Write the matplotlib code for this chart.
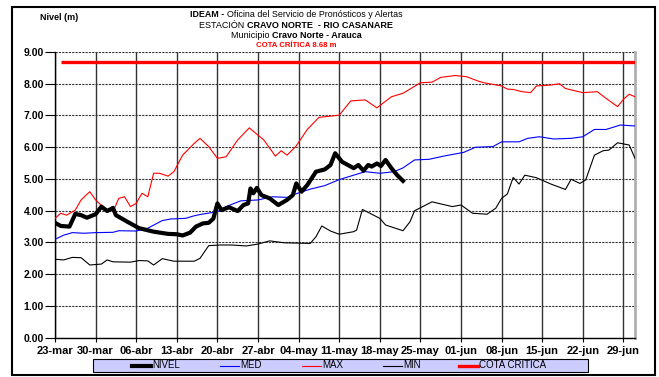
import matplotlib.pyplot as plt
import numpy as np
from matplotlib.patches import Rectangle
from matplotlib.lines import Line2D

plt.rcParams['font.family'] = ['Liberation Sans', 'DejaVu Sans']

# Días contados desde el 23-mar
fechas = ['23-mar', '30-mar', '06-abr', '13-abr', '20-abr', '27-abr', '04-may',
          '11-may', '18-may', '25-may', '01-jun', '08-jun', '15-jun', '22-jun', '29-jun']

nivel_dias = [0, 1, 2.5, 3.5, 4.5, 5.5, 7, 8, 9, 10, 10.5, 12.5, 14.5, 17, 19.5, 21, 22,
              23.3, 24.3, 25.5, 26.5, 27.3, 28, 28.7, 30, 31.5, 32.5, 33.3, 33.7, 34.2,
              34.8, 35.6, 37, 38.5, 40, 41, 41.6, 42.5, 43.5, 45, 46.5, 47.5, 48.3, 49.5,
              50.5, 51.5, 52.3, 53.2, 54, 54.6, 55.5, 56.2, 57, 58, 59, 60]
nivel_vals = [3.62, 3.52, 3.50, 3.90, 3.86, 3.78, 3.89, 4.13, 3.99, 4.09, 3.86, 3.65, 3.45,
              3.34, 3.27, 3.26, 3.22, 3.31, 3.50, 3.60, 3.62, 3.75, 4.23, 4.02, 4.11, 3.99,
              4.18, 4.23, 4.70, 4.55, 4.72, 4.49, 4.39, 4.18, 4.34, 4.49, 4.86, 4.60, 4.81,
              5.23, 5.30, 5.44, 5.81, 5.54, 5.44, 5.34, 5.44, 5.26, 5.44, 5.39, 5.49, 5.41,
              5.60, 5.34, 5.12, 4.94]

med_dias = [0, 1.5, 3, 5, 7, 10, 11, 14, 16, 18.5, 20, 22.5, 24, 25, 28, 29.5, 32, 35, 37.5,
            40, 41.5, 44, 46.5, 49, 51.5, 53.5, 56, 58.5, 60, 62, 64.5, 67, 70.5, 72.5, 75.5,
            77, 80, 81.5, 83.5, 86, 89, 91, 93, 95, 97.5, 100]
med_vals = [3.10, 3.23, 3.31, 3.29, 3.31, 3.32, 3.37, 3.36, 3.45, 3.69, 3.74, 3.76, 3.84,
            3.88, 3.97, 4.13, 4.31, 4.34, 4.44, 4.42, 4.53, 4.68, 4.79, 4.98, 5.12, 5.23,
            5.18, 5.23, 5.35, 5.60, 5.62, 5.72, 5.84, 6.00, 6.02, 6.17, 6.17, 6.28, 6.33,
            6.26, 6.28, 6.33, 6.56, 6.56, 6.70, 6.67]

max_dias = [0, 1, 2, 3.5, 4.5, 6, 7, 8.5, 10, 11, 12, 13, 14, 15, 16, 17, 18, 19.5, 20.5,
            22, 24, 25, 26.5, 28, 29.5, 31.5, 33.5, 35, 36, 38, 39, 40, 41.5, 43.5, 45.5,
            47.5, 49, 51, 53.5, 55.5, 58, 60, 63, 65, 66.5, 69, 71, 73, 74, 77, 78, 79, 80.5,
            82, 83, 85.5, 87, 88, 91, 93.5, 95, 97, 98, 99, 100]
max_vals = [3.76, 3.92, 3.86, 4.02, 4.34, 4.60, 4.34, 4.08, 3.97, 4.39, 4.44, 4.13, 4.23,
            4.55, 4.44, 5.18, 5.18, 5.09, 5.23, 5.75, 6.12, 6.28, 6.02, 5.65, 5.70, 6.23,
            6.61, 6.38, 6.23, 5.72, 5.89, 5.75, 6.02, 6.56, 6.94, 6.98, 7.01, 7.46, 7.49,
            7.24, 7.59, 7.70, 8.03, 8.05, 8.20, 8.26, 8.22, 8.08, 8.03, 7.93, 7.83, 7.82,
            7.75, 7.72, 7.93, 7.96, 8.00, 7.85, 7.72, 7.75, 7.54, 7.28, 7.51, 7.67, 7.59]

min_dias = [0, 1.5, 3, 4.5, 6, 8, 9, 10, 13, 14.5, 16, 17, 18.5, 20.5, 24, 25, 26.5, 28.5,
            30.5, 33, 35, 37, 39.5, 44, 45, 46, 47.5, 49, 51.5, 52, 53, 56, 57, 60, 61.2, 62,
            65, 68.5, 70, 72, 74.5, 76, 77, 78, 79, 80, 81, 83, 85.5, 88, 89, 90.5, 91.5, 93,
            94.5, 95.5, 97, 99, 100]
min_vals = [2.47, 2.45, 2.53, 2.52, 2.29, 2.32, 2.45, 2.39, 2.38, 2.43, 2.42, 2.29, 2.49,
            2.41, 2.41, 2.50, 2.90, 2.92, 2.92, 2.89, 2.95, 3.05, 2.99, 2.97, 3.18, 3.52,
            3.36, 3.26, 3.34, 3.39, 4.04, 3.76, 3.55, 3.37, 3.65, 4.00, 4.28, 4.13, 4.18,
            3.92, 3.89, 4.08, 4.39, 4.53, 5.05, 4.84, 5.12, 5.04, 4.84, 4.67, 4.99, 4.86,
            4.97, 5.75, 5.89, 5.91, 6.14, 6.07, 5.65]

cota_critica = 8.68
cota_dias = [1, 100]

leyenda = ['NIVEL', 'MED', 'MAX', 'MIN', 'COTA CRITICA']

W, H = 659, 377


def fx(px):
    return px / W


def fy(py):
    return 1 - py / H


fig = plt.figure(figsize=(W / 100, H / 100), dpi=100)
ax = fig.add_axes([fx(55), fy(337.7), fx(635) - fx(55), fy(52) - fy(337.7)])

# Series
ax.hlines(cota_critica, cota_dias[0], cota_dias[1], color='#ff0000', lw=2.4, zorder=3)
ax.plot(max_dias, max_vals, color='#ff0000', lw=0.8, zorder=3)
ax.plot(min_dias, min_vals, color='black', lw=0.8, zorder=3)
ax.plot(med_dias, med_vals, color='#0000ff', lw=0.8, zorder=3)
ax.plot(nivel_dias, nivel_vals, color='black', lw=3, solid_joinstyle='round', zorder=4)

# Ejes
ax.set_xlim(0, 100)
ax.set_ylim(0, 9)
ax.set_xticks(np.arange(0, 100, 7))
ax.set_xticklabels(fechas)
ax.set_yticks(np.arange(0, 10))
ax.set_yticklabels([f'{v:.2f}' for v in range(10)])
ax.tick_params(axis='x', length=3, width=0.8, pad=3, labelsize=8)
ax.tick_params(axis='y', length=7, width=0.8, pad=1, labelsize=7.5)
for lbl in ax.get_xticklabels() + ax.get_yticklabels():
    lbl.set_fontweight('bold')

ax.grid(axis='y', color='#333333', ls=(0, (2, 1)), lw=0.8)
ax.grid(axis='x', color='#333333', ls='-', lw=1.0)
ax.set_axisbelow(True)
ax.spines['top'].set_visible(False)
ax.spines['right'].set_color('#b0b0b0')
ax.spines['right'].set_linewidth(2)
ax.spines['left'].set_linewidth(1)
ax.spines['bottom'].set_linewidth(1)

# Encabezado
renderer = fig.canvas.get_renderer()


def linea(y_px, partes, size):
    textos = [fig.text(0, fy(y_px), s, fontsize=size, fontweight=w, color=c, va='baseline')
              for s, w, c in partes]
    anchos = [t.get_window_extent(renderer).width for t in textos]
    x = 296 - sum(anchos) / 2
    for t, a in zip(textos, anchos):
        t.set_x(fx(x))
        x += a


linea(17, [('IDEAM - ', 'bold', 'black'),
           ('Oficina del Servicio de Pronósticos y Alertas', 'normal', 'black')], 6.4)
linea(28, [('ESTACIÓN ', 'normal', 'black'),
           ('CRAVO NORTE  - RIO CASANARE', 'bold', 'black')], 6.5)
linea(38, [('Municipio ', 'normal', 'black'),
           ('Cravo Norte - Arauca', 'bold', 'black')], 6.5)
linea(47, [(f'COTA CRÍTICA {cota_critica:.2f} m', 'bold', '#ff0000')], 5.6)

fig.text(fx(40), fy(20), 'Nivel (m)', fontsize=6.5, fontweight='bold', va='baseline')

# Leyenda
fig.add_artist(Rectangle((fx(93), fy(372)), fx(588) - fx(93), fy(359) - fy(372),
                         transform=fig.transFigure, facecolor='#ccccff',
                         edgecolor='black', lw=0.8))
estilos = [('black', 3), ('#0000ff', 0.8), ('#ff0000', 0.8), ('black', 0.8), ('#ff0000', 2.4)]
inicios = [132, 220, 302, 383, 459]
for nombre, (color, lw), x0 in zip(leyenda, estilos, inicios):
    fig.add_artist(Line2D([fx(x0), fx(x0 + 19)], [fy(365.5), fy(365.5)],
                          transform=fig.transFigure, color=color, lw=lw))
    fig.text(fx(x0 + 20), fy(365.5), nombre, fontsize=7, va='center')

# Marco exterior
fig.add_artist(Rectangle((fx(12), fy(375)), fx(655) - fx(12), fy(7) - fy(375),
                         transform=fig.transFigure, fill=False, edgecolor='black', lw=1.5))

fig.savefig('out.png', dpi=100)
